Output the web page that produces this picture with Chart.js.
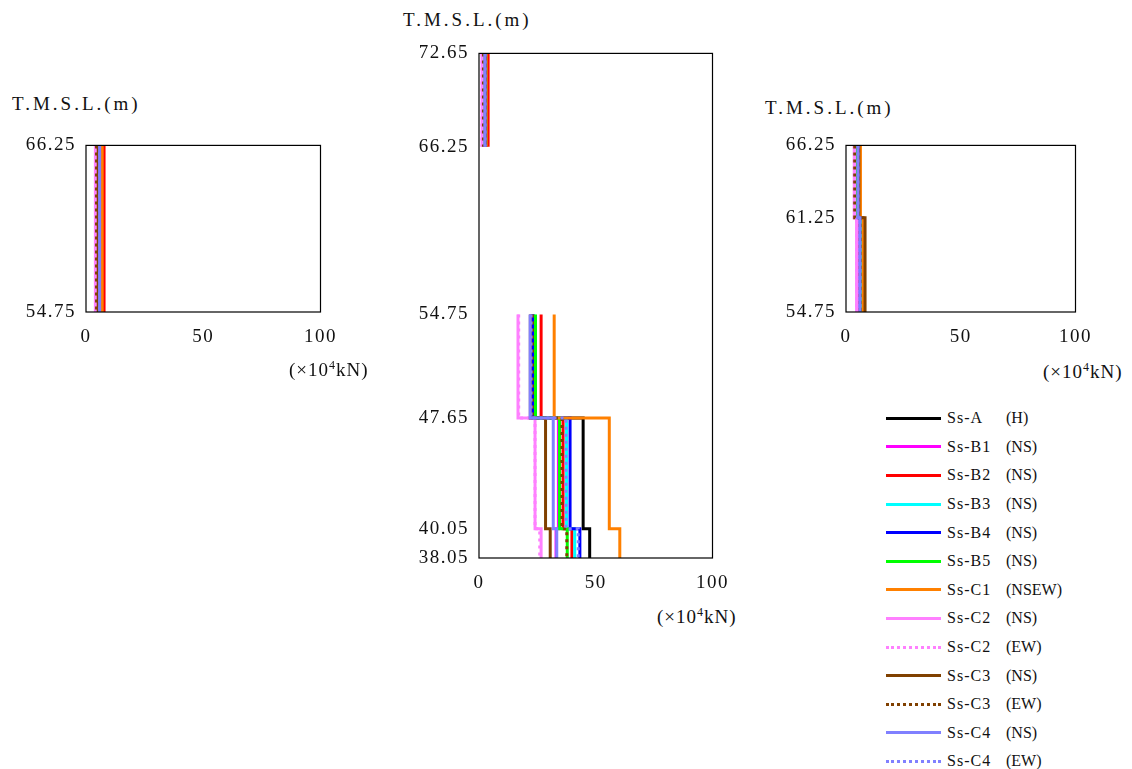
<!DOCTYPE html>
<html>
<head>
<meta charset="utf-8">
<script src="https://cdn.jsdelivr.net/npm/chart.js@4"></script>
<style>
  body { margin: 0; background: #fff; width: 1132px; height: 769px; position: relative; overflow: hidden;
         font-family: "Liberation Serif", "DejaVu Serif", serif; color: #111; }
  canvas { position: absolute; }
  .lbl { position: absolute; font-size: 19px; white-space: nowrap; }
  .ttl { letter-spacing: 3px; }
  .unit { letter-spacing: 1px; }
  #legend { position: absolute; left: 886px; top: 404px; }
  .row { height: 28.6px; display: flex; align-items: center; font-size: 16px; }
  .sw { width: 55px; height: 0; margin-right: 6px; }
  .nm { width: 59px; letter-spacing: 1px; }
</style>
</head>
<body>
<canvas id="cLeft"></canvas>
<canvas id="cMid"></canvas>
<canvas id="cRight"></canvas>

<div class="lbl ttl" style="left:12px;top:93px;">T.M.S.L.(m)</div>
<div class="lbl ttl" style="left:403px;top:9px;">T.M.S.L.(m)</div>
<div class="lbl ttl" style="left:765px;top:97px;">T.M.S.L.(m)</div>
<div class="lbl unit" style="left:289px;top:358px;">(×10<sup style="font-size:12px">4</sup>kN)</div>
<div class="lbl unit" style="left:657px;top:605px;">(×10<sup style="font-size:12px">4</sup>kN)</div>
<div class="lbl unit" style="left:1043px;top:360px;">(×10<sup style="font-size:12px">4</sup>kN)</div>
<div id="legend"></div>

<script>
// 波形名と方向
const waveNames = ['Ss-A', 'Ss-B1', 'Ss-B2', 'Ss-B3', 'Ss-B4', 'Ss-B5', 'Ss-C1',
                   'Ss-C2', 'Ss-C2', 'Ss-C3', 'Ss-C3', 'Ss-C4', 'Ss-C4'];
const waveDirs = ['(H)', '(NS)', '(NS)', '(NS)', '(NS)', '(NS)', '(NSEW)',
                  '(NS)', '(EW)', '(NS)', '(EW)', '(NS)', '(EW)'];

// 標高 (T.M.S.L. m)
const leftLevels = [66.25, 54.75];
const midLevels = [72.65, 66.25, 54.75, 47.65, 40.05, 38.05];
const rightLevels = [66.25, 61.25, 54.75];

// 値 (×10^4 kN)
const leftVals = [6.3, 5.5, 7.7, 6.2, 6.4, 6.0, 6.9, 4.0, 4.2, 5.2, 4.5, 5.8, 5.8];

const midTop = [2.8, 2.2, 3.9, 2.6, 2.8, 2.5, 3.2, 1.3, 1.3, 2.9, 1.9, 2.6, 2.6];          // 72.65-66.25
const midUpper = [23.0, 22.5, 26.6, 23.5, 23.2, 24.2, 32.2, 16.7, 17.0, 22.0, 22.9, 21.9, 22.3]; // 54.75-47.65
const midMiddle = [44.6, 34.0, 36.0, 37.5, 39.0, 34.5, 55.8, 24.0, 24.0, 28.5, 35.5, 31.8, 37.2]; // 47.65-40.05
const midLower = [47.4, 33.0, 39.8, 41.0, 43.2, 37.8, 60.3, 26.6, 26.0, 30.5, 37.6, 33.3, 42.5];  // 40.05-38.05

const rightUpper = [5.5, 4.8, 5.8, 5.0, 5.3, 5.0, 6.3, 3.6, 3.6, 5.6, 3.8, 5.2, 5.2];  // 66.25-61.25
const rightLower = [7.2, 6.0, 7.0, 6.5, 6.8, 6.4, 7.5, 4.6, 4.7, 8.3, 6.2, 6.1, 6.1];  // 61.25-54.75

const xTicks = [0, 50, 100];

// 線のスタイル
const lineColors = ['#000000', '#ff00ff', '#ff0000', '#00ffff', '#0000ff', '#00ff00', '#ff8000',
                    '#ff80ff', '#ff80ff', '#804000', '#804000', '#8080ff', '#8080ff'];
const dotted = waveDirs.map((d, i) => [8, 10, 12].includes(i));

const tickFont = { family: '"Liberation Serif", serif', size: 19 };

// 外枠と文字間隔
const boxPlugin = {
  id: 'box',
  beforeLayout(chart) { chart.ctx.letterSpacing = '1.5px'; },
  beforeDraw(chart) { chart.ctx.letterSpacing = '1.5px'; },
  afterDraw(chart) {
    const a = chart.chartArea, ctx = chart.ctx;
    ctx.save();
    ctx.strokeStyle = '#000';
    ctx.lineWidth = 1.2;
    ctx.strokeRect(a.left, a.top, a.right - a.left, a.bottom - a.top);
    ctx.restore();
  }
};

function makeDatasets(pointsFor) {
  return waveNames.map((name, i) => ({
    label: name + ' ' + waveDirs[i],
    data: pointsFor(i),
    borderColor: lineColors[i],
    borderWidth: 3,
    borderDash: dotted[i] ? [3, 4] : [],
    pointRadius: 0,
    tension: 0,
    fill: false,
    order: waveNames.length - i
  }));
}

function makeChart(id, pos, yMin, yMax, yTicks, datasets) {
  const cv = document.getElementById(id);
  cv.style.left = pos.left + 'px';
  cv.style.top = pos.top + 'px';
  cv.width = pos.w; cv.height = pos.h;
  return new Chart(cv, {
    type: 'line',
    data: { datasets: datasets },
    plugins: [boxPlugin],
    options: {
      responsive: false,
      animation: false,
      spanGaps: false,
      layout: { padding: { top: pos.padTop, right: pos.padRight, left: 0, bottom: 0 } },
      plugins: { legend: { display: false }, tooltip: { enabled: false } },
      scales: {
        x: {
          type: 'linear', min: 0, max: 100,
          grid: { display: false, drawTicks: false },
          border: { display: false },
          afterBuildTicks: s => { s.ticks = xTicks.map(v => ({ value: v })); },
          afterFit: s => { s.height = pos.xh; },
          ticks: { color: '#111', font: tickFont, padding: 14, maxRotation: 0 }
        },
        y: {
          type: 'linear', min: yMin, max: yMax,
          grid: { display: false, drawTicks: false },
          border: { display: false },
          afterBuildTicks: s => { s.ticks = yTicks.map(v => ({ value: v })); },
          afterFit: s => { s.width = pos.yw; },
          ticks: { color: '#111', font: tickFont, padding: 10, autoSkip: false,
                   callback: v => Number(v).toFixed(2) }
        }
      }
    }
  });
}

// 左
makeChart('cLeft', { left: 0, top: 124, w: 351, h: 236, padTop: 16, padRight: 23, xh: 48, yw: 86 },
  54.75, 66.25, leftLevels,
  makeDatasets(i => [{ x: leftVals[i], y: leftLevels[0] }, { x: leftVals[i], y: leftLevels[1] }]));

// 中央
makeChart('cMid', { left: 380, top: 32, w: 363, h: 569, padTop: 18, padRight: 28, xh: 43, yw: 99 },
  38.05, 72.65, midLevels,
  makeDatasets(i => [
    { x: midTop[i], y: midLevels[0] }, { x: midTop[i], y: midLevels[1] },
    { x: null, y: null },
    { x: midUpper[i], y: midLevels[2] }, { x: midUpper[i], y: midLevels[3] },
    { x: midMiddle[i], y: midLevels[3] }, { x: midMiddle[i], y: midLevels[4] },
    { x: midLower[i], y: midLevels[4] }, { x: midLower[i], y: midLevels[5] }
  ]));

// 右
makeChart('cRight', { left: 760, top: 124, w: 346, h: 236, padTop: 16, padRight: 22, xh: 48, yw: 86 },
  54.75, 66.25, rightLevels,
  makeDatasets(i => [
    { x: rightUpper[i], y: rightLevels[0] }, { x: rightUpper[i], y: rightLevels[1] },
    { x: rightLower[i], y: rightLevels[1] }, { x: rightLower[i], y: rightLevels[2] }
  ]));

// 凡例
const legend = document.getElementById('legend');
waveNames.forEach((name, i) => {
  const row = document.createElement('div');
  row.className = 'row';
  const sw = document.createElement('div');
  sw.className = 'sw';
  sw.style.borderTop = (dotted[i] ? '3.5px dotted ' : '3.5px solid ') + lineColors[i];
  const nm = document.createElement('span');
  nm.className = 'nm';
  nm.textContent = name;
  const dr = document.createElement('span');
  dr.textContent = waveDirs[i];
  row.appendChild(sw); row.appendChild(nm); row.appendChild(dr);
  legend.appendChild(row);
});
</script>
</body>
</html>
